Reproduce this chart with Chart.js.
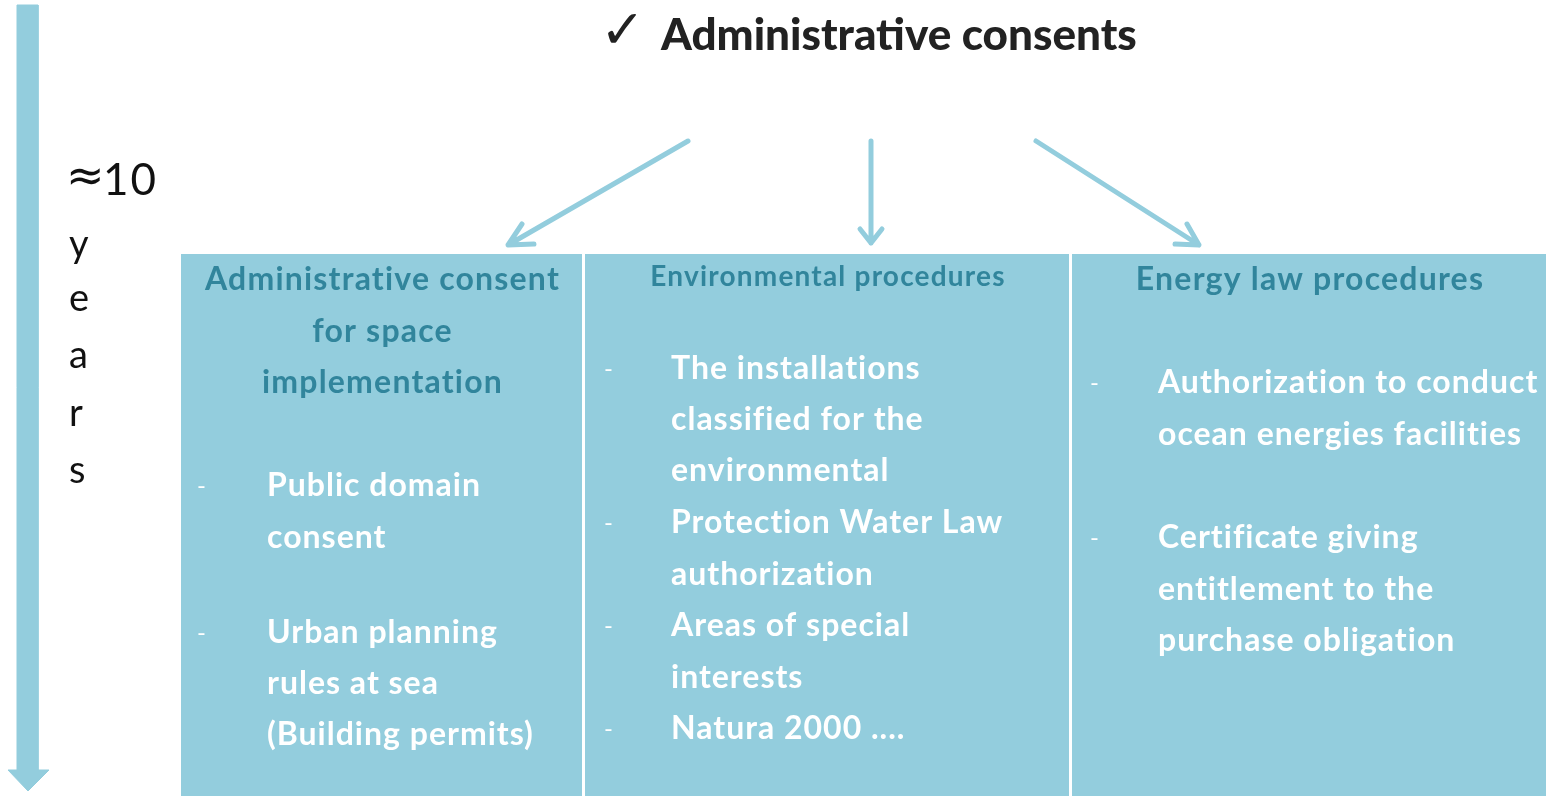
<!DOCTYPE html>
<html>
<head>
<meta charset="utf-8">
<script src="https://cdn.jsdelivr.net/npm/chart.js@4"></script>
<style>
  html, body { margin: 0; padding: 0; background: #fff; }
  #wrap { width: 1546px; height: 796px; position: relative; }
</style>
</head>
<body>
<div id="wrap"><canvas id="c"></canvas></div>
<script>
// page coordinates used as axis values (y runs downward)
const W = 1546, H = 796;

// the three procedure boxes
const boxLeft = [181, 585, 1072];
const boxRight = [582, 1069, 1546];
const boxTop = [254, 254, 254];
const boxBottom = [796, 796, 796];

// arrows from the title to each box
const arrowTail = [[688, 141], [871, 141], [1036, 141]];
const arrowTip = [[508, 245], [871, 243], [1199, 245]];
const arrowArmA = [[522, 224], [860, 229], [1187, 224]];
const arrowArmB = [[534, 244], [882, 229], [1175, 244]];

// timeline arrow on the left (outline)
const timelineX = [17, 38, 38, 49, 28, 8, 17, 17];
const timelineY = [5, 5, 770, 770, 791, 770, 770, 5];

// texts
const titleText = 'Administrative consents';
const headerLines = [
  ['Administrative consent', 'for space', 'implementation'],
  ['Environmental procedures'],
  ['Energy law procedures']
];
const headerY = [[280, 332, 383], [277], [280]];
const headerSize = [32, 28, 32];

const bodyLines = [
  [['-', 'Public domain', 486], ['', 'consent', 538], ['-', 'Urban planning', 633], ['', 'rules at sea', 684], ['', '(Building permits)', 735]],
  [['-', 'The installations', 369], ['', 'classified for the', 420], ['', 'environmental', 471], ['-', 'Protection Water Law', 523],
   ['', 'authorization', 575], ['-', 'Areas of special', 626], ['', 'interests', 678], ['-', 'Natura 2000 ....', 729]],
  [['-', 'Authorization to conduct', 383], ['', 'ocean energies facilities', 435], ['-', 'Certificate giving', 538],
   ['', 'entitlement to the', 590], ['', 'purchase obligation', 641]]
];
const dashX = [197, 604, 1090];
const bodyX = [267, 671, 1158];
const yearsLetters = ['y', 'e', 'a', 'r', 's'];
const yearsY = [245, 299, 356, 414, 471];

const BOX = '#93CDDD';
const HEAD = '#31859C';
const FONT = 'Lato, "Open Sans", sans-serif';

function rect(i) {
  return [
    {x: boxLeft[i], y: boxTop[i]}, {x: boxRight[i], y: boxTop[i]},
    {x: boxRight[i], y: boxBottom[i]}, {x: boxLeft[i], y: boxBottom[i]},
    {x: boxLeft[i], y: boxTop[i]}
  ];
}

const datasets = [];
for (let i = 0; i < boxLeft.length; i++) {
  datasets.push({
    data: rect(i), showLine: true, fill: 'shape', backgroundColor: BOX,
    borderWidth: 0, pointRadius: 0, tension: 0
  });
}
datasets.push({
  data: timelineX.map((x, i) => ({x: x, y: timelineY[i]})),
  showLine: true, fill: 'shape', backgroundColor: BOX, borderColor: BOX,
  borderWidth: 1, pointRadius: 0
});
for (let i = 0; i < arrowTail.length; i++) {
  const t = arrowTail[i], p = arrowTip[i], a = arrowArmA[i], b = arrowArmB[i];
  datasets.push({
    data: [{x: t[0], y: t[1]}, {x: p[0], y: p[1]}, {x: a[0], y: a[1]}, {x: p[0], y: null},
           {x: p[0], y: p[1]}, {x: b[0], y: b[1]}],
    showLine: true, spanGaps: false, borderColor: BOX, borderWidth: 5,
    borderCapStyle: 'round', borderJoinStyle: 'round', pointRadius: 0, fill: false
  });
}

const textPlugin = {
  id: 'texts',
  afterDatasetsDraw(chart) {
    const ctx = chart.ctx;
    const sx = chart.scales.x, sy = chart.scales.y;
    const X = v => sx.getPixelForValue(v), Y = v => sy.getPixelForValue(v);
    ctx.save();
    ctx.textBaseline = 'middle';

    // title
    ctx.fillStyle = '#222';
    ctx.textAlign = 'left';
    ctx.font = 'bold 54px "DejaVu Sans"';
    ctx.fillText('\u2713', X(600), Y(34));
    ctx.font = '900 44px ' + FONT;
    ctx.fillText(titleText, X(661), Y(36));

    // time span
    ctx.fillStyle = '#111';
    ctx.font = '46px "DejaVu Sans"';
    ctx.fillText('\u2248', X(66), Y(179));
    ctx.font = '44px ' + FONT;
    ctx.letterSpacing = '2px';
    ctx.fillText('10', X(103), Y(181));
    ctx.letterSpacing = '0px';
    ctx.font = '38px ' + FONT;
    yearsLetters.forEach((l, i) => ctx.fillText(l, X(69), Y(yearsY[i])));

    // headers
    ctx.fillStyle = HEAD;
    ctx.textAlign = 'center';
    headerLines.forEach((lines, i) => {
      ctx.font = 'bold ' + headerSize[i] + 'px ' + FONT;
      ctx.letterSpacing = '1.2px';
      const cx = (boxLeft[i] + boxRight[i]) / 2;
      lines.forEach((t, j) => ctx.fillText(t, X(cx + 1), Y(headerY[i][j])));
    });

    // bullet texts
    ctx.fillStyle = '#fff';
    ctx.textAlign = 'left';
    bodyLines.forEach((lines, i) => {
      lines.forEach(l => {
        ctx.font = 'bold 32px ' + FONT;
        ctx.letterSpacing = '1px';
        ctx.fillText(l[1], X(bodyX[i]), Y(l[2]));
        if (l[0]) {
          ctx.font = '24px ' + FONT;
          ctx.letterSpacing = '0px';
          ctx.fillText('-', X(dashX[i]), Y(l[2]));
        }
      });
    });
    ctx.restore();
  }
};

new Chart(document.getElementById('c'), {
  type: 'scatter',
  data: {datasets: datasets},
  options: {
    responsive: true,
    maintainAspectRatio: false,
    animation: false,
    events: [],
    layout: {padding: 0},
    plugins: {legend: {display: false}, tooltip: {enabled: false}},
    scales: {
      x: {type: 'linear', min: 0, max: W, display: false},
      y: {type: 'linear', min: 0, max: H, reverse: true, display: false}
    }
  },
  plugins: [textPlugin]
});
</script>
</body>
</html>
